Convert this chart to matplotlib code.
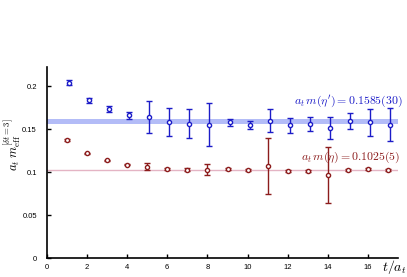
import matplotlib
matplotlib.use("Agg")
import matplotlib.pyplot as plt
import numpy as np

plt.rcParams['mathtext.fontset'] = 'cm'
plt.rcParams['font.family'] = ['Liberation Sans', 'DejaVu Sans']

t = np.arange(1, 18)
eta_prime = [0.2040, 0.1838, 0.1734, 0.1660, 0.1645, 0.1579, 0.1564, 0.1553, 0.1579,
             0.1553, 0.1599, 0.1545, 0.1564, 0.1515, 0.1591, 0.1579, 0.1553]
eta_prime_err = [0.003, 0.003, 0.003, 0.004, 0.0186, 0.0163, 0.0169, 0.0249, 0.0037,
                 0.0048, 0.0131, 0.0088, 0.0081, 0.0127, 0.0094, 0.0154, 0.0188]
eta = [0.1377, 0.1219, 0.1138, 0.1089, 0.1066, 0.1043, 0.1031, 0.1031, 0.1038,
       0.1026, 0.1069, 0.1012, 0.1015, 0.0965, 0.1031, 0.1035, 0.1031]
eta_err = [0.0008, 0.0008, 0.0008, 0.0008, 0.0038, 0.0012, 0.002, 0.0062, 0.0010,
           0.0010, 0.0325, 0.0010, 0.0010, 0.0325, 0.0010, 0.0010, 0.0010]
fit_eta_prime, fit_eta_prime_err = 0.1585, 0.0030
fit_eta, fit_eta_err = 0.1025, 0.0005

blue = '#1c1cc8'
red = '#8c1c1c'

fig = plt.figure(figsize=(4.07, 2.77), dpi=100)
ax = fig.add_axes([0.1147, 0.0668, 0.8639, 0.6922])
ax.set_xlim(0, 17.5)
ax.set_ylim(0, 0.2225)

ax.axhspan(fit_eta_prime - fit_eta_prime_err, fit_eta_prime + fit_eta_prime_err,
           color='#b3bcf7', lw=0, zorder=1)
ax.axhline(fit_eta, color='#e4b4c4', lw=1.0, zorder=1)

ax.errorbar(t + 0.1, eta_prime, yerr=eta_prime_err, fmt='o', ms=3.0, mfc='white',
            mec=blue, mew=1.0, ecolor=blue, elinewidth=1.0, capsize=2, capthick=1.0, zorder=3)
ax.errorbar(t, eta, yerr=eta_err, fmt='o', ms=3.0, mfc='white',
            mec=red, mew=1.0, ecolor=red, elinewidth=1.0, capsize=2, capthick=1.0, zorder=3)

ax.text(17.73, 0.1735, r"$a_t\,m(\eta') = 0.1585(30)$", color=blue, fontsize=8.5,
        ha='right', va='bottom', clip_on=False)
ax.text(17.6, 0.1085, r"$a_t\,m(\eta) = 0.1025(5)$", color=red, fontsize=8.5,
        ha='right', va='bottom', clip_on=False)

for s in ['top', 'right']:
    ax.spines[s].set_visible(False)
for s in ['left', 'bottom']:
    ax.spines[s].set_linewidth(1.2)

ax.set_xticks(np.arange(0, 17, 2))
ax.set_yticks([0, 0.05, 0.1, 0.15, 0.2])
ax.set_yticklabels(['0', '0.05', '0.1', '0.15', '0.2'])
ax.tick_params(direction='in', length=3, width=1, labelsize=5.5)
ax.tick_params(axis='y', pad=7)
ax.tick_params(axis='x', pad=4)

fig.text(0.030, 0.4765, r"$a_t\; m_{\rm eff}^{[\delta t=3]}$", fontsize=9,
         rotation=90, ha='center', va='center')
fig.text(0.998, 0.005, r"$t/a_t$", fontsize=10, ha='right', va='bottom')

fig.savefig('out.png', dpi=100)
